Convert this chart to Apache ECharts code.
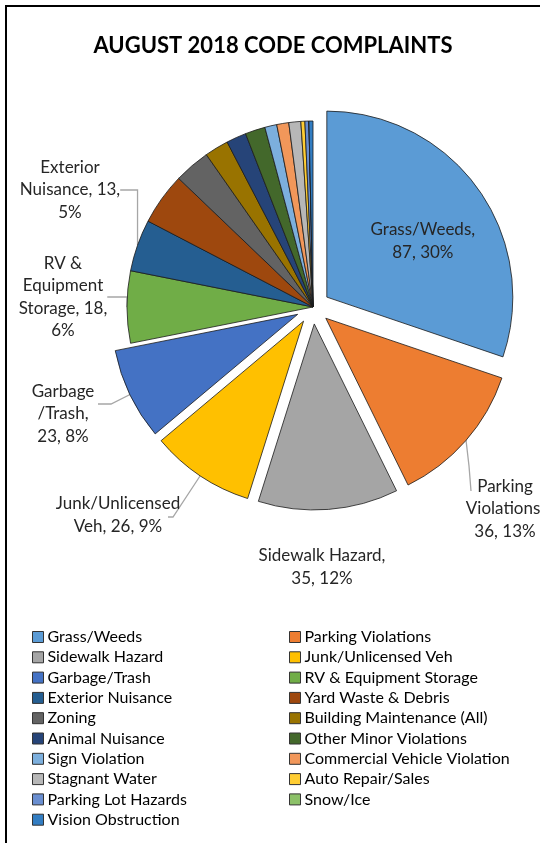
<!DOCTYPE html>
<html>
<head>
<meta charset="utf-8">
<script src="https://cdn.jsdelivr.net/npm/echarts@6/dist/echarts.min.js"></script>
<style>
  html, body { margin: 0; padding: 0; background: #fff; }
  #chart { width: 540px; height: 843px; }
</style>
</head>
<body>
<div id="chart"></div>
<script>
const categories = [
  'Grass/Weeds', 'Parking Violations', 'Sidewalk Hazard', 'Junk/Unlicensed Veh',
  'Garbage/Trash', 'RV & Equipment Storage', 'Exterior Nuisance', 'Yard Waste & Debris',
  'Zoning', 'Building Maintenance (All)', 'Animal Nuisance', 'Other Minor Violations',
  'Sign Violation', 'Commercial Vehicle Violation', 'Stagnant Water', 'Auto Repair/Sales',
  'Parking Lot Hazards', 'Snow/Ice', 'Vision Obstruction'
]
const complaints = [87, 36, 35, 26, 23, 18, 13, 13, 9, 6, 5, 5, 3, 3, 3, 1, 1, 0, 1]
const colors = [
  '#5B9BD5', '#ED7D31', '#A5A5A5', '#FFC000', '#4472C4', '#70AD47', '#255E91', '#9E480E',
  '#636363', '#997300', '#264478', '#43682B', '#7CAFDD', '#F1975A', '#B7B7B7', '#FFCD33',
  '#698ED0', '#8CC168', '#327DC2'
]
// slices pulled out of the pie
const exploded = ['Grass/Weeds', 'Parking Violations', 'Sidewalk Hazard', 'Junk/Unlicensed Veh', 'Garbage/Trash']

// how each shown label wraps ({v} value, {p} percent)
const labelTemplates = {
  'Grass/Weeds': 'Grass/Weeds,\n{v}, {p}%',
  'Parking Violations': 'Parking\nViolations,\n{v}, {p}%',
  'Sidewalk Hazard': 'Sidewalk Hazard,\n{v}, {p}%',
  'Junk/Unlicensed Veh': 'Junk/Unlicensed\nVeh, {v}, {p}%',
  'Garbage/Trash': 'Garbage\n/Trash,\n{v}, {p}%',
  'RV & Equipment Storage': 'RV &\nEquipment\nStorage, {v},\n{p}%',
  'Exterior Nuisance': 'Exterior\nNuisance, {v},\n{p}%'
}
// centres of the outside labels, px
const labelSpots = {
  'Parking Violations': [505, 509],
  'Sidewalk Hazard': [322, 567],
  'Junk/Unlicensed Veh': [118, 515],
  'Garbage/Trash': [63, 414],
  'RV & Equipment Storage': [63, 297],
  'Exterior Nuisance': [70, 190]
}
// leader lines for the labels of pulled-out slices (others are routed by echarts)
const leaderLines = {
  'Parking Violations': [[466, 440], [469, 466], [471, 491]],
  'Junk/Unlicensed Veh': [[202, 473], [173, 517], [168, 517]],
  'Garbage/Trash': [[135, 392], [111, 404], [98, 404]]
}

const total = complaints.reduce((a, b) => a + b, 0)
const font = 'Lato, "Open Sans", sans-serif'
const pieCenter = [313, 307]
const pieRadius = 186

function labelText(p) {
  let t = labelTemplates[p.name] || ''
  let pct = Math.round(p.value / total * 100)
  return t.replace('{v}', p.value).replace('{p}', pct)
}

let myChart = echarts.init(document.getElementById('chart'))

// the coloured slices
let pieData = categories.map((name, i) => {
  let item = {
    name: name,
    value: complaints[i],
    selected: exploded.indexOf(name) >= 0,
    itemStyle: { color: colors[i] }
  }
  if (name !== 'Grass/Weeds') item.label = { show: false }
  return item
})

// same slices, unpainted, only to carry the outside labels and their lines
let labelData = categories.map((name, i) => {
  let item = { name: name, value: complaints[i] }
  if (!labelSpots[name]) {
    item.label = { show: false }
    item.labelLine = { show: false }
  }
  if (name === 'Sidewalk Hazard') item.labelLine = { show: false }
  return item
})

let labelStyle = {
  fontFamily: font,
  fontSize: 17,
  lineHeight: 22.5,
  color: '#262626',
  align: 'center'
}

let legendBase = {
  orient: 'vertical',
  top: 629,
  padding: 0,
  itemWidth: 11,
  itemHeight: 11,
  itemGap: 4.3,
  icon: 'rect',
  selectedMode: false,
  itemStyle: { borderColor: '#333', borderWidth: 1 },
  textStyle: { fontFamily: font, fontSize: 16, color: '#000', lineHeight: 16, padding: [0, 0, 0, -1] }
}

let option = {
  backgroundColor: '#fff',
  animation: false,
  title: {
    text: 'AUGUST 2018 CODE COMPLAINTS',
    left: 268,
    top: 30,
    textAlign: 'center',
    textStyle: {
      fontFamily: font,
      fontWeight: 'bold',
      fontSize: 22,
      color: '#000'
    }
  },
  graphic: [{
    type: 'rect',
    shape: { x: 6, y: 6, width: 600, height: 900 },
    style: { fill: 'none', stroke: '#000', lineWidth: 2 },
    silent: true
  }],
  legend: [
    Object.assign({}, legendBase, { left: 32, data: categories.filter((c, i) => i % 2 === 0) }),
    Object.assign({}, legendBase, { left: 289, data: categories.filter((c, i) => i % 2 === 1) })
  ],
  series: [
    {
      type: 'pie',
      z: 2,
      center: pieCenter,
      radius: pieRadius,
      startAngle: 90,
      clockwise: true,
      selectedMode: 'multiple',
      selectedOffset: 17,
      avoidLabelOverlap: false,
      itemStyle: { borderColor: '#1a1a1a', borderWidth: 0.8 },
      emphasis: { disabled: true },
      label: Object.assign({
        show: true,
        position: 'inside',
        padding: [0, 0, 0, 36],
        formatter: labelText
      }, labelStyle),
      labelLine: { show: false },
      data: pieData
    },
    {
      type: 'pie',
      z: 1,
      silent: true,
      center: pieCenter,
      radius: pieRadius,
      startAngle: 90,
      clockwise: true,
      selectedMode: false,
      avoidLabelOverlap: false,
      legendHoverLink: false,
      itemStyle: { color: 'rgba(0,0,0,0)', borderWidth: 0 },
      emphasis: { disabled: true },
      label: Object.assign({
        show: true,
        position: 'outside',
        formatter: labelText
      }, labelStyle),
      labelLine: {
        show: true,
        lineStyle: { color: '#a6a6a6', width: 1.3 }
      },
      labelLayout: function (params) {
        let name = categories[params.dataIndex]
        let spot = labelSpots[name]
        if (!spot) return {}
        let out = { x: spot[0], y: spot[1], align: 'center', verticalAlign: 'middle' }
        if (leaderLines[name]) out.labelLinePoints = leaderLines[name]
        return out
      },
      data: labelData
    }
  ]
}

myChart.setOption(option)
</script>
</body>
</html>
